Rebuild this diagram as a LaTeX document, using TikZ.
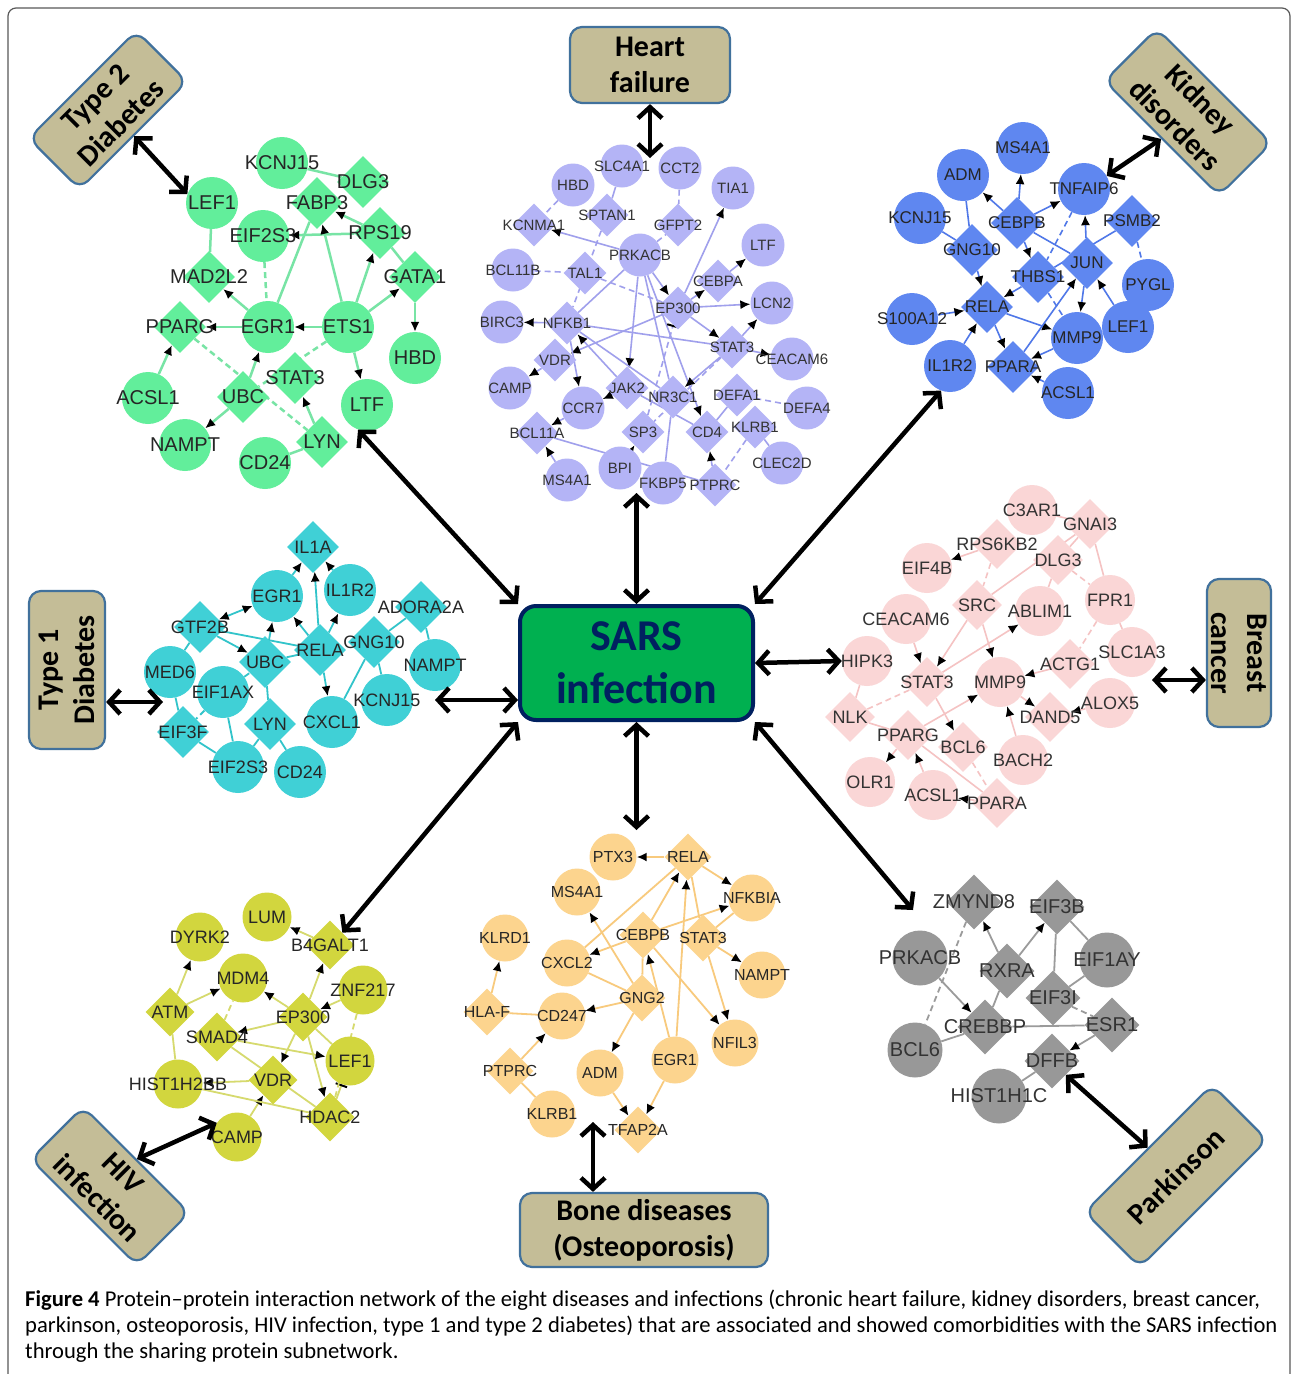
\documentclass[tikz,border=0pt]{standalone}
\usepackage{fontspec}
\setmainfont{Liberation Sans}
\newfontfamily\calib{Carlito}
\usetikzlibrary{shapes.geometric,arrows.meta}
\definecolor{tanfill}{RGB}{196,189,151}
\definecolor{tanedge}{RGB}{65,113,156}
\definecolor{sarsgreen}{RGB}{0,176,80}
\definecolor{sarsnavy}{RGB}{0,32,96}
\definecolor{tgreen}{RGB}{98,238,155}
\definecolor{tgreenl}{RGB}{120,228,165}
\definecolor{hfpurple}{RGB}{180,180,246}
\definecolor{hfpurplel}{RGB}{160,160,236}
\definecolor{kdblue}{RGB}{95,135,240}
\definecolor{kdbluel}{RGB}{80,120,232}
\definecolor{bcpink}{RGB}{250,214,214}
\definecolor{bcpinkl}{RGB}{245,195,195}
\definecolor{tocyan}{RGB}{64,208,214}
\definecolor{tocyanl}{RGB}{50,196,202}
\definecolor{hivyellow}{RGB}{210,214,62}
\definecolor{hivyellowl}{RGB}{214,218,110}
\definecolor{boneorange}{RGB}{252,212,142}
\definecolor{boneorangel}{RGB}{248,202,125}
\definecolor{pdgray}{RGB}{152,152,152}
\definecolor{pdgrayl}{RGB}{155,155,155}
\pgfdeclarelayer{edges}
\pgfdeclarelayer{paper}
\pgfsetlayers{paper,edges,main}

\begin{document}
\begin{tikzpicture}[x=1pt, y=-1pt,
  pcirc/.style={circle, inner sep=0pt, pfill, label={[plab]center:#1}},
  pdiam/.style={diamond, inner sep=0pt, pfill, label={[plab]center:#1}},
  pa/.style={pedge, -{Latex[length=10pt,width=9pt,color=black]}},
  pboth/.style={pedge, {Latex[length=10pt,width=9pt,color=black]}-{Latex[length=10pt,width=9pt,color=black]}},
  pbar/.style={pedge, -{Bar[width=12pt,line width=2pt,color=black]}},
  pdash/.style={pedge, dash pattern=on 6pt off 4pt},
  dis/.style={draw=tanedge, fill=tanfill, line width=2.2pt, rounded corners=12pt, inner sep=0pt,
    align=center, font=\calib\bfseries\fontsize{30}{36}\selectfont},
  sarsbox/.style={draw=sarsnavy, fill=sarsgreen, line width=4pt, rounded corners=16pt,
    minimum width=233pt, minimum height=114pt, text=sarsnavy, align=center,
    font=\calib\bfseries\fontsize{44}{53}\selectfont},
  arr/.style={<->, >={Straight Barb[length=11pt,width=24pt]}, line width=4.5pt},
  figcap/.style={anchor=base west, inner sep=0pt, font=\calib\fontsize{22.6}{26}\selectfont}
]
\begin{pgfonlayer}{paper}
  \fill[white] (0,0) rectangle (1292,1374);
\end{pgfonlayer}
\useasboundingbox (0,0) rectangle (1292,1374);
\draw[black!65, line width=1.2pt, rounded corners=8pt] (8,1400) -- (8,8) -- (1290,8) -- (1290,1400);

% Type 2 diabetes
\begin{scope}[pfill/.style={fill=tgreen, minimum size=52pt},
  plab/.style={font=\fontsize{20}{20}\selectfont, text=black!85},
  pedge/.style={draw=tgreenl, line width=2.5pt}]
  \node[pcirc=KCNJ15] (t2KCNJ15) at (282,163) {};
  \node[pdiam=DLG3] (t2DLG3) at (363,182) {};
  \node[pdiam=FABP3] (t2FABP3) at (317,203) {};
  \node[pcirc=LEF1] (t2LEF1) at (212,203) {};
  \node[pcirc=EIF2S3] (t2EIF2S3) at (263,236) {};
  \node[pdiam=RPS19] (t2RPS19) at (380,233) {};
  \node[pdiam=MAD2L2] (t2MAD2L2) at (209,277) {};
  \node[pdiam=GATA1] (t2GATA1) at (415,277) {};
  \node[pdiam=PPARG] (t2PPARG) at (180,327) {};
  \node[pcirc=EGR1] (t2EGR1) at (268,327) {};
  \node[pcirc=ETS1] (t2ETS1) at (348,327) {};
  \node[pcirc=HBD] (t2HBD) at (415,358) {};
  \node[pdiam=STAT3] (t2STAT3) at (295,378) {};
  \node[pdiam=UBC] (t2UBC) at (243,397) {};
  \node[pcirc=ACSL1] (t2ACSL1) at (148,398) {};
  \node[pcirc=LTF] (t2LTF) at (367,405) {};
  \node[pcirc=NAMPT] (t2NAMPT) at (185,445) {};
  \node[pdiam=LYN] (t2LYN) at (322,442) {};
  \node[pcirc=CD24] (t2CD24) at (265,463) {};
  \begin{pgfonlayer}{edges}
    \draw[pedge] (t2KCNJ15) -- (t2DLG3);
    \draw[pa] (t2RPS19) -- (t2FABP3);
    \draw[pa] (t2RPS19) -- (t2EIF2S3);
    \draw[pa] (t2ETS1) -- (t2FABP3);
    \draw[pa] (t2ETS1) -- (t2RPS19);
    \draw[pa] (t2ETS1) -- (t2GATA1);
    \draw[pa] (t2GATA1) -- (t2HBD);
    \draw[pa] (t2ETS1) -- (t2EGR1);
    \draw[pa] (t2EGR1) -- (t2PPARG);
    \draw[pa] (t2EGR1) -- (t2MAD2L2);
    \draw[pedge] (t2EGR1) -- (t2FABP3);
    \draw[pdash] (t2EIF2S3) -- (t2EGR1);
    \draw[pedge] (t2LEF1) -- (t2MAD2L2);
    \draw[pa] (t2ACSL1) -- (t2PPARG);
    \draw[pa] (t2UBC) -- (t2EGR1);
    \draw[pa] (t2UBC) -- (t2NAMPT);
    \draw[pdash] (t2PPARG) -- (t2LYN);
    \draw[pdash] (t2ETS1) -- (t2UBC);
    \draw[pa] (t2LYN) -- (t2STAT3);
    \draw[pa] (t2ETS1) -- (t2LTF);
    \draw[pedge] (t2LYN) -- (t2CD24);
    \draw[pedge] (t2GATA1) -- (t2RPS19);
  \end{pgfonlayer}
\end{scope}

% Heart failure
\begin{scope}[pfill/.style={fill=hfpurple, minimum size=43pt},
  plab/.style={font=\fontsize{15}{15}\selectfont, text=black!80},
  pedge/.style={draw=hfpurplel, line width=1.6pt}]
  \node[pcirc=HBD] (hfHBD) at (573,185) {};
  \node[pcirc=SLC4A1] (hfSLC4A1) at (622,166) {};
  \node[pcirc=CCT2] (hfCCT2) at (680,168) {};
  \node[pcirc=TIA1] (hfTIA1) at (733,188) {};
  \node[pdiam=KCNMA1] (hfKCNMA1) at (534,225) {};
  \node[pdiam=SPTAN1] (hfSPTAN1) at (607,215) {};
  \node[pdiam=GFPT2] (hfGFPT2) at (678,225) {};
  \node[pcirc=PRKACB] (hfPRKACB) at (640,255) {};
  \node[pcirc=LTF] (hfLTF) at (763,245) {};
  \node[pcirc=BCL11B] (hfBCL11B) at (513,270) {};
  \node[pdiam=TAL1] (hfTAL1) at (585,273) {};
  \node[pdiam=CEBPA] (hfCEBPA) at (718,281) {};
  \node[pdiam=EP300] (hfEP300) at (678,308) {};
  \node[pcirc=LCN2] (hfLCN2) at (772,303) {};
  \node[pcirc=BIRC3] (hfBIRC3) at (502,322) {};
  \node[pdiam=NFKB1] (hfNFKB1) at (567,323) {};
  \node[pdiam=STAT3] (hfSTAT3) at (732,347) {};
  \node[pcirc=CEACAM6] (hfCEACAM6) at (792,359) {};
  \node[pdiam=VDR] (hfVDR) at (555,360) {};
  \node[pcirc=CAMP] (hfCAMP) at (510,388) {};
  \node[pdiam=JAK2] (hfJAK2) at (627,388) {};
  \node[pdiam=NR3C1] (hfNR3C1) at (673,397) {};
  \node[pcirc=CCR7] (hfCCR7) at (583,408) {};
  \node[pdiam=DEFA1] (hfDEFA1) at (737,395) {};
  \node[pcirc=DEFA4] (hfDEFA4) at (807,408) {};
  \node[pdiam=BCL11A] (hfBCL11A) at (537,433) {};
  \node[pdiam=SP3] (hfSP3) at (643,432) {};
  \node[pdiam=CD4] (hfCD4) at (707,432) {};
  \node[pdiam=KLRB1] (hfKLRB1) at (755,427) {};
  \node[pcirc=CLEC2D] (hfCLEC2D) at (782,463) {};
  \node[pcirc=MS4A1] (hfMS4A1) at (567,480) {};
  \node[pcirc=BPI] (hfBPI) at (620,468) {};
  \node[pcirc=FKBP5] (hfFKBP5) at (663,483) {};
  \node[pdiam=PTPRC] (hfPTPRC) at (715,485) {};
  \begin{pgfonlayer}{edges}
    \draw[pdash] (hfHBD) -- (hfKCNMA1);
    \draw[pedge] (hfSLC4A1) -- (hfSPTAN1);
    \draw[pdash] (hfCCT2) -- (hfGFPT2);
    \draw[pa] (hfPRKACB) -- (hfKCNMA1);
    \draw[pdash] (hfPRKACB) -- (hfGFPT2);
    \draw[pa] (hfPRKACB) -- (hfEP300);
    \draw[pedge] (hfPRKACB) -- (hfNFKB1);
    \draw[pa] (hfPRKACB) -- (hfJAK2);
    \draw[pedge] (hfPRKACB) -- (hfNR3C1);
    \draw[pa] (hfPRKACB) -- (hfCD4);
    \draw[pdash] (hfBCL11B) -- (hfTAL1);
    \draw[pdash] (hfTAL1) -- (hfEP300);
    \draw[pdash] (hfSPTAN1) -- (hfNFKB1);
    \draw[pa] (hfEP300) -- (hfTIA1);
    \draw[pa] (hfEP300) -- (hfCEBPA);
    \draw[pa] (hfCEBPA) -- (hfLTF);
    \draw[pa] (hfEP300) -- (hfLCN2);
    \draw[pa] (hfEP300) -- (hfSTAT3);
    \draw[pa] (hfSTAT3) -- (hfLCN2);
    \draw[pa] (hfSTAT3) -- (hfCEACAM6);
    \draw[pa] (hfNFKB1) -- (hfBIRC3);
    \draw[pedge] (hfNFKB1) -- (hfSTAT3);
    \draw[pa] (hfEP300) -- (hfVDR);
    \draw[pa] (hfVDR) -- (hfCAMP);
    \draw[pa] (hfNFKB1) -- (hfCCR7);
    \draw[pa] (hfSTAT3) -- (hfNR3C1);
    \draw[pa] (hfJAK2) -- (hfNFKB1);
    \draw[pbar, dash pattern=on 6pt off 4pt] (hfSP3) -- (hfEP300);
    \draw[pedge] (hfNR3C1) -- (hfNFKB1);
    \draw[pa] (hfJAK2) -- (hfCCR7);
    \draw[pa] (hfCCR7) -- (hfBCL11A);
    \draw[pa] (hfMS4A1) -- (hfBCL11A);
    \draw[pedge] (hfBCL11A) -- (hfPTPRC);
    \draw[pa] (hfBPI) -- (hfSP3);
    \draw[pedge] (hfFKBP5) -- (hfNR3C1);
    \draw[pa] (hfPTPRC) -- (hfCD4);
    \draw[pdash] (hfKLRB1) -- (hfPTPRC);
    \draw[pdash] (hfDEFA1) -- (hfDEFA4);
    \draw[pedge] (hfDEFA1) -- (hfCD4);
    \draw[pedge] (hfKLRB1) -- (hfCLEC2D);
    \draw[pdash] (hfSTAT3) -- (hfSP3);
    \draw[pedge] (hfJAK2) -- (hfCD4);
  \end{pgfonlayer}
\end{scope}

% Kidney disorders
\begin{scope}[pfill/.style={fill=kdblue, minimum size=52pt},
  plab/.style={font=\fontsize{17}{17}\selectfont, text=black!85},
  pedge/.style={draw=kdbluel, line width=1.6pt}]
  \node[pcirc=MS4A1] (kdMS4A1) at (1023,148) {};
  \node[pcirc=ADM] (kdADM) at (963,175) {};
  \node[pcirc=TNFAIP6] (kdTNFAIP6) at (1084,189) {};
  \node[pcirc=KCNJ15] (kdKCNJ15) at (920,218) {};
  \node[pdiam=CEBPB] (kdCEBPB) at (1017,223) {};
  \node[pdiam=PSMB2] (kdPSMB2) at (1132,221) {};
  \node[pdiam=GNG10] (kdGNG10) at (972,250) {};
  \node[pdiam=JUN] (kdJUN) at (1087,263) {};
  \node[pdiam=THBS1] (kdTHBS1) at (1038,277) {};
  \node[pcirc=PYGL] (kdPYGL) at (1148,285) {};
  \node[pdiam=RELA] (kdRELA) at (987,307) {};
  \node[pcirc=S100A12] (kdS100A12) at (912,319) {};
  \node[pcirc=MMP9] (kdMMP9) at (1077,338) {};
  \node[pcirc=LEF1] (kdLEF1) at (1128,327) {};
  \node[pcirc=IL1R2] (kdIL1R2) at (950,366) {};
  \node[pdiam=PPARA] (kdPPARA) at (1013,367) {};
  \node[pcirc=ACSL1] (kdACSL1) at (1068,393) {};
  \begin{pgfonlayer}{edges}
    \draw[pedge] (kdADM) -- (kdGNG10);
    \draw[pedge] (kdKCNJ15) -- (kdGNG10);
    \draw[pa] (kdCEBPB) -- (kdMS4A1);
    \draw[pa] (kdCEBPB) -- (kdADM);
    \draw[pa] (kdCEBPB) -- (kdTNFAIP6);
    \draw[pa] (kdCEBPB) -- (kdTHBS1);
    \draw[pedge] (kdCEBPB) -- (kdJUN);
    \draw[pa] (kdGNG10) -- (kdRELA);
    \draw[pdash] (kdTNFAIP6) -- (kdTHBS1);
    \draw[pa] (kdJUN) -- (kdTNFAIP6);
    \draw[pedge] (kdPSMB2) -- (kdTHBS1);
    \draw[pdash] (kdPSMB2) -- (kdPYGL);
    \draw[pa] (kdJUN) -- (kdMMP9);
    \draw[pa] (kdLEF1) -- (kdJUN);
    \draw[pa] (kdTHBS1) -- (kdRELA);
    \draw[pa] (kdS100A12) -- (kdRELA);
    \draw[pa] (kdRELA) -- (kdMMP9);
    \draw[pa] (kdRELA) -- (kdPPARA);
    \draw[pa] (kdIL1R2) -- (kdRELA);
    \draw[pa] (kdPPARA) -- (kdJUN);
    \draw[pa] (kdACSL1) -- (kdPPARA);
    \draw[pa] (kdMMP9) -- (kdPPARA);
    \draw[pdash] (kdTHBS1) -- (kdMMP9);
  \end{pgfonlayer}
\end{scope}

% Breast cancer
\begin{scope}[pfill/.style={fill=bcpink, minimum size=50pt},
  plab/.style={font=\fontsize{18}{18}\selectfont, text=black!80},
  pedge/.style={draw=bcpinkl, line width=1.6pt}]
  \node[pcirc=C3AR1] (bcC3AR1) at (1032,510) {};
  \node[pdiam=GNAI3] (bcGNAI3) at (1090,524) {};
  \node[pdiam=RPS6KB2] (bcRPS6KB2) at (997,544) {};
  \node[pcirc=EIF4B] (bcEIF4B) at (927,568) {};
  \node[pdiam=DLG3] (bcDLG3) at (1058,560) {};
  \node[pdiam=SRC] (bcSRC) at (977,605) {};
  \node[pcirc=ABLIM1] (bcABLIM1) at (1040,611) {};
  \node[pcirc=FPR1] (bcFPR1) at (1110,600) {};
  \node[pcirc=CEACAM6] (bcCEACAM6) at (906,619) {};
  \node[pcirc=HIPK3] (bcHIPK3) at (867,661) {};
  \node[pdiam=STAT3] (bcSTAT3) at (927,682) {};
  \node[pcirc=MMP9] (bcMMP9) at (1000,682) {};
  \node[pdiam=ACTG1] (bcACTG1) at (1070,664) {};
  \node[pcirc=SLC1A3] (bcSLC1A3) at (1132,652) {};
  \node[pcirc=ALOX5] (bcALOX5) at (1110,703) {};
  \node[pdiam=DAND5] (bcDAND5) at (1050,717) {};
  \node[pdiam=NLK] (bcNLK) at (850,717) {};
  \node[pdiam=PPARG] (bcPPARG) at (908,735) {};
  \node[pdiam=BCL6] (bcBCL6) at (963,747) {};
  \node[pcirc=BACH2] (bcBACH2) at (1023,760) {};
  \node[pcirc=OLR1] (bcOLR1) at (870,782) {};
  \node[pcirc=ACSL1] (bcACSL1) at (933,795) {};
  \node[pdiam=PPARA] (bcPPARA) at (997,803) {};
  \begin{pgfonlayer}{edges}
    \draw[pa] (bcRPS6KB2) -- (bcEIF4B);
    \draw[pedge] (bcC3AR1) -- (bcGNAI3);
    \draw[pedge] (bcGNAI3) -- (bcDLG3);
    \draw[pedge] (bcGNAI3) -- (bcFPR1);
    \draw[pedge] (bcGNAI3) -- (bcSRC);
    \draw[pdash] (bcRPS6KB2) -- (bcSRC);
    \draw[pdash] (bcDLG3) -- (bcFPR1);
    \draw[pedge] (bcDLG3) -- (bcABLIM1);
    \draw[pa] (bcSRC) -- (bcSTAT3);
    \draw[pa] (bcSRC) -- (bcMMP9);
    \draw[pa] (bcSTAT3) -- (bcABLIM1);
    \draw[pa] (bcCEACAM6) -- (bcSTAT3);
    \draw[pedge] (bcHIPK3) -- (bcNLK);
    \draw[pdash] (bcNLK) -- (bcSTAT3);
    \draw[pa] (bcSTAT3) -- (bcBCL6);
    \draw[pa] (bcPPARG) -- (bcMMP9);
    \draw[pa] (bcACTG1) -- (bcMMP9);
    \draw[pdash] (bcFPR1) -- (bcACTG1);
    \draw[pedge] (bcFPR1) -- (bcSLC1A3);
    \draw[pa] (bcALOX5) -- (bcDAND5);
    \draw[pa] (bcMMP9) -- (bcDAND5);
    \draw[pa] (bcBACH2) -- (bcMMP9);
    \draw[pa] (bcPPARG) -- (bcOLR1);
    \draw[pa] (bcACSL1) -- (bcPPARG);
    \draw[pa] (bcPPARA) -- (bcACSL1);
    \draw[pedge] (bcPPARG) -- (bcPPARA);
    \draw[pdash] (bcBCL6) -- (bcPPARA);
    \draw[pedge] (bcNLK) -- (bcPPARG);
  \end{pgfonlayer}
\end{scope}

% Type 1 diabetes
\begin{scope}[pfill/.style={fill=tocyan, minimum size=52pt},
  plab/.style={font=\fontsize{18}{18}\selectfont, text=black!85},
  pedge/.style={draw=tocyanl, line width=1.8pt}]
  \node[pdiam=IL1A] (t1IL1A) at (313,547) {};
  \node[pcirc=EGR1] (t1EGR1) at (277,596) {};
  \node[pcirc=IL1R2] (t1IL1R2) at (350,590) {};
  \node[pdiam=ADORA2A] (t1ADORA2A) at (421,607) {};
  \node[pdiam=GTF2B] (t1GTF2B) at (200,627) {};
  \node[pdiam=GNG10] (t1GNG10) at (374,642) {};
  \node[pdiam=RELA] (t1RELA) at (320,650) {};
  \node[pdiam=UBC] (t1UBC) at (265,662) {};
  \node[pcirc=MED6] (t1MED6) at (170,672) {};
  \node[pcirc=NAMPT] (t1NAMPT) at (435,665) {};
  \node[pcirc=EIF1AX] (t1EIF1AX) at (223,692) {};
  \node[pcirc=KCNJ15] (t1KCNJ15) at (387,700) {};
  \node[pcirc=CXCL1] (t1CXCL1) at (332,722) {};
  \node[pdiam=LYN] (t1LYN) at (270,724) {};
  \node[pdiam=EIF3F] (t1EIF3F) at (183,732) {};
  \node[pcirc=EIF2S3] (t1EIF2S3) at (238,767) {};
  \node[pcirc=CD24] (t1CD24) at (300,772) {};
  \begin{pgfonlayer}{edges}
    \draw[pa] (t1EGR1) -- (t1IL1A);
    \draw[pa] (t1IL1R2) -- (t1IL1A);
    \draw[pa] (t1RELA) -- (t1IL1A);
    \draw[pboth] (t1EGR1) -- (t1GTF2B);
    \draw[pa] (t1UBC) -- (t1EGR1);
    \draw[pa] (t1RELA) -- (t1EGR1);
    \draw[pa] (t1RELA) -- (t1IL1R2);
    \draw[pa] (t1GTF2B) -- (t1UBC);
    \draw[pedge] (t1GTF2B) -- (t1RELA);
    \draw[pedge] (t1UBC) -- (t1RELA);
    \draw[pa] (t1RELA) -- (t1CXCL1);
    \draw[pedge] (t1GNG10) -- (t1ADORA2A);
    \draw[pedge] (t1GNG10) -- (t1KCNJ15);
    \draw[pedge] (t1GNG10) -- (t1CXCL1);
    \draw[pedge] (t1ADORA2A) -- (t1NAMPT);
    \draw[pedge] (t1MED6) -- (t1GTF2B);
    \draw[pdash] (t1EIF1AX) -- (t1UBC);
    \draw[pdash] (t1EIF1AX) -- (t1EIF3F);
    \draw[pedge] (t1EIF1AX) -- (t1EIF2S3);
    \draw[pedge] (t1EIF3F) -- (t1MED6);
    \draw[pedge] (t1EIF3F) -- (t1EIF2S3);
    \draw[pedge] (t1LYN) -- (t1EIF2S3);
    \draw[pedge] (t1LYN) -- (t1CD24);
    \draw[pedge] (t1UBC) -- (t1LYN);
  \end{pgfonlayer}
\end{scope}

% HIV infection
\begin{scope}[pfill/.style={fill=hivyellow, minimum size=49pt},
  plab/.style={font=\fontsize{18}{18}\selectfont, text=black!85},
  pedge/.style={draw=hivyellowl, line width=1.8pt}]
  \node[pcirc=LUM] (hivLUM) at (267,917) {};
  \node[pcirc=DYRK2] (hivDYRK2) at (200,937) {};
  \node[pdiam=B4GALT1] (hivB4GALT1) at (330,945) {};
  \node[pcirc=MDM4] (hivMDM4) at (243,978) {};
  \node[pcirc=ZNF217] (hivZNF217) at (363,990) {};
  \node[pdiam=ATM] (hivATM) at (170,1012) {};
  \node[pdiam=EP300] (hivEP300) at (303,1017) {};
  \node[pdiam=SMAD4] (hivSMAD4) at (217,1037) {};
  \node[pcirc=LEF1] (hivLEF1) at (350,1061) {};
  \node[pdiam=VDR] (hivVDR) at (273,1080) {};
  \node[pcirc=HIST1H2BB] (hivHIST1H2BB) at (178,1084) {};
  \node[pdiam=HDAC2] (hivHDAC2) at (330,1117) {};
  \node[pcirc=CAMP] (hivCAMP) at (237,1137) {};
  \begin{pgfonlayer}{edges}
    \draw[pa] (hivB4GALT1) -- (hivLUM);
    \draw[pa] (hivEP300) -- (hivB4GALT1);
    \draw[pa] (hivZNF217) -- (hivEP300);
    \draw[pa] (hivEP300) -- (hivMDM4);
    \draw[pa] (hivEP300) -- (hivSMAD4);
    \draw[pa] (hivATM) -- (hivDYRK2);
    \draw[pa] (hivATM) -- (hivMDM4);
    \draw[pedge] (hivATM) -- (hivHIST1H2BB);
    \draw[pdash] (hivSMAD4) -- (hivMDM4);
    \draw[pa] (hivSMAD4) -- (hivLEF1);
    \draw[pa] (hivEP300) -- (hivVDR);
    \draw[pa] (hivEP300) -- (hivHDAC2);
    \draw[pedge] (hivEP300) -- (hivLEF1);
    \draw[pedge] (hivSMAD4) -- (hivHDAC2);
    \draw[pa] (hivVDR) -- (hivHIST1H2BB);
    \draw[pa] (hivCAMP) -- (hivVDR);
    \draw[pedge] (hivHIST1H2BB) -- (hivHDAC2);
    \draw[pbar] (hivHDAC2) -- (hivLEF1);
    \draw[pdash] (hivZNF217) -- (hivHDAC2);
  \end{pgfonlayer}
\end{scope}

% Bone diseases
\begin{scope}[pfill/.style={fill=boneorange, minimum size=47pt},
  plab/.style={font=\fontsize{16}{16}\selectfont, text=black!85},
  pedge/.style={draw=boneorangel, line width=1.8pt}]
  \node[pcirc=PTX3] (bonePTX3) at (613,857) {};
  \node[pdiam=RELA] (boneRELA) at (688,857) {};
  \node[pcirc=MS4A1] (boneMS4A1) at (577,892) {};
  \node[pcirc=NFKBIA] (boneNFKBIA) at (752,898) {};
  \node[pcirc=KLRD1] (boneKLRD1) at (505,938) {};
  \node[pdiam=CEBPB] (boneCEBPB) at (643,935) {};
  \node[pdiam=STAT3] (boneSTAT3) at (703,938) {};
  \node[pcirc=CXCL2] (boneCXCL2) at (567,963) {};
  \node[pcirc=NAMPT] (boneNAMPT) at (762,975) {};
  \node[pdiam=GNG2] (boneGNG2) at (642,998) {};
  \node[pdiam=HLA-F] (boneHLAF) at (487,1012) {};
  \node[pcirc=CD247] (boneCD247) at (562,1016) {};
  \node[pcirc=NFIL3] (boneNFIL3) at (735,1043) {};
  \node[pcirc=EGR1] (boneEGR1) at (675,1060) {};
  \node[pcirc=ADM] (boneADM) at (600,1073) {};
  \node[pdiam=PTPRC] (bonePTPRC) at (510,1071) {};
  \node[pcirc=KLRB1] (boneKLRB1) at (552,1114) {};
  \node[pdiam=TFAP2A] (boneTFAP2A) at (638,1130) {};
  \begin{pgfonlayer}{edges}
    \draw[pa] (boneRELA) -- (bonePTX3);
    \draw[pa] (boneRELA) -- (boneNFKBIA);
    \draw[pa] (boneCEBPB) -- (boneRELA);
    \draw[pedge] (boneRELA) -- (boneCXCL2);
    \draw[pa] (boneEGR1) -- (boneRELA);
    \draw[pedge] (boneRELA) -- (boneSTAT3);
    \draw[pa] (boneGNG2) -- (boneMS4A1);
    \draw[pa] (boneCEBPB) -- (boneCXCL2);
    \draw[pa] (boneCEBPB) -- (boneNFKBIA);
    \draw[pa] (boneSTAT3) -- (boneNAMPT);
    \draw[pa] (boneSTAT3) -- (boneNFIL3);
    \draw[pa] (boneCEBPB) -- (boneNFIL3);
    \draw[pa] (boneEGR1) -- (boneCEBPB);
    \draw[pedge] (boneCXCL2) -- (boneGNG2);
    \draw[pa] (boneGNG2) -- (boneCD247);
    \draw[pa] (boneGNG2) -- (boneADM);
    \draw[pa] (boneHLAF) -- (boneKLRD1);
    \draw[pedge] (boneHLAF) -- (boneCD247);
    \draw[pa] (bonePTPRC) -- (boneCD247);
    \draw[pedge] (bonePTPRC) -- (boneKLRB1);
    \draw[pa] (boneADM) -- (boneTFAP2A);
    \draw[pa] (boneEGR1) -- (boneTFAP2A);
    \draw[pedge] (boneNFKBIA) -- (boneSTAT3);
    \draw[pedge] (boneGNG2) -- (boneCEBPB);
  \end{pgfonlayer}
\end{scope}

% Parkinson
\begin{scope}[pfill/.style={fill=pdgray, minimum size=55pt},
  plab/.style={font=\fontsize{20}{20}\selectfont, text=black!80},
  pedge/.style={draw=pdgrayl, line width=1.8pt}]
  \node[pdiam=ZMYND8] (pdZMYND8) at (974,902) {};
  \node[pdiam=EIF3B] (pdEIF3B) at (1057,907) {};
  \node[pcirc=PRKACB] (pdPRKACB) at (920,958) {};
  \node[pdiam=RXRA] (pdRXRA) at (1007,971) {};
  \node[pcirc=EIF1AY] (pdEIF1AY) at (1107,960) {};
  \node[pdiam=EIF3I] (pdEIF3I) at (1053,998) {};
  \node[pdiam=CREBBP] (pdCREBBP) at (985,1027) {};
  \node[pdiam=ESR1] (pdESR1) at (1112,1025) {};
  \node[pcirc=BCL6] (pdBCL6) at (915,1050) {};
  \node[pdiam=DFFB] (pdDFFB) at (1052,1061) {};
  \node[pcirc=HIST1H1C] (pdHIST1H1C) at (999,1096) {};
  \begin{pgfonlayer}{edges}
    \draw[pdash] (pdZMYND8) -- (pdBCL6);
    \draw[pa] (pdRXRA) -- (pdZMYND8);
    \draw[pa] (pdRXRA) -- (pdEIF3B);
    \draw[pa] (pdPRKACB) -- (pdCREBBP);
    \draw[pedge] (pdCREBBP) -- (pdRXRA);
    \draw[pedge] (pdEIF3B) -- (pdEIF3I);
    \draw[pedge] (pdEIF3B) -- (pdEIF1AY);
    \draw[pedge] (pdEIF3I) -- (pdEIF1AY);
    \draw[pedge] (pdCREBBP) -- (pdESR1);
    \draw[pdash] (pdEIF3I) -- (pdESR1);
    \draw[pa] (pdESR1) -- (pdDFFB);
    \draw[pedge] (pdDFFB) -- (pdHIST1H1C);
    \draw[pedge] (pdBCL6) -- (pdCREBBP);
  \end{pgfonlayer}
\end{scope}

% SARS and the disease boxes
\node[sarsbox] (sars) at (636.5,663) {SARS\\infection};
\node[dis, minimum width=160pt, minimum height=76pt] (heart) at (650,65) {Heart\\failure};
\node[dis, minimum width=152pt, minimum height=72pt, rotate=45] (type2) at (108,110) {Type 2\\Diabetes};
\node[dis, minimum width=162pt, minimum height=74pt, rotate=-45] (kidney) at (1188,112) {Kidney\\disorders};
\node[dis, minimum width=148pt, minimum height=64pt, rotate=-90] (breast) at (1239,653) {Breast\\cancer};
\node[dis, minimum width=158pt, minimum height=76pt, rotate=90] (type1) at (67,670) {Type 1\\Diabetes};
\node[dis, minimum width=150pt, minimum height=74pt, rotate=-45] (hiv) at (110,1186) {HIV\\infection};
\node[dis, minimum width=248pt, minimum height=74pt] (bone) at (644,1230) {Bone diseases\\(Osteoporosis)};
\node[dis, minimum width=180pt, minimum height=78pt, rotate=45] (parkinson) at (1176,1176) {Parkinson};

% connectors
\coordinate (hfTop) at (650,158);
\coordinate (hfBottom) at (636.5,493);
\coordinate (bcEnd) at (1152,680);
\coordinate (t1End) at (163,702);
\coordinate (t1cEnd) at (435,700);
\coordinate (boneTop) at (636.5,830);
\coordinate (pdEnd) at (913,910);
\coordinate (boneEnd) at (593,1122);
\draw[arr] (heart.south) -- (hfTop);
\draw[arr] (hfBottom) -- (sars.north);
\draw[arr] (type2.south) -- (t2LEF1.160);
\draw[arr] (t2LTF.250) -- (sars.north west);
\draw[arr] (kidney.south) -- (kdTNFAIP6.30);
\draw[arr] (kdIL1R2.250) -- (sars.north east);
\draw[arr] (bcEnd -| breast.south) -- (bcEnd);
\draw[arr] (sars.east) -- (bcHIPK3.west);
\draw[arr] (t1End -| type1.south) -- (t1End);
\draw[arr] (t1cEnd) -- (t1cEnd -| sars.west);
\draw[arr] (sars.south west) -- (hivB4GALT1.north east);
\draw[arr] (sars.south) -- (boneTop);
\draw[arr] (sars.south east) -- (pdEnd);
\draw[arr] (hiv.north) -- (hivCAMP.145);
\draw[arr] (bone.north -| boneEnd) -- (boneEnd);
\draw[arr] (parkinson.north) -- (pdDFFB.south east);

% caption
\node[figcap] (cap1) at (25,1306) {\textbf{Figure 4} Protein–protein interaction network of the eight diseases and infections (chronic heart failure, kidney disorders, breast cancer,};
\node[figcap] (cap2) at (25,1332) {parkinson, osteoporosis, HIV infection, type 1 and type 2 diabetes) that are associated and showed comorbidities with the SARS infection};
\node[figcap] (cap3) at (25,1358) {through the sharing protein subnetwork.};
\end{tikzpicture}
\end{document}
